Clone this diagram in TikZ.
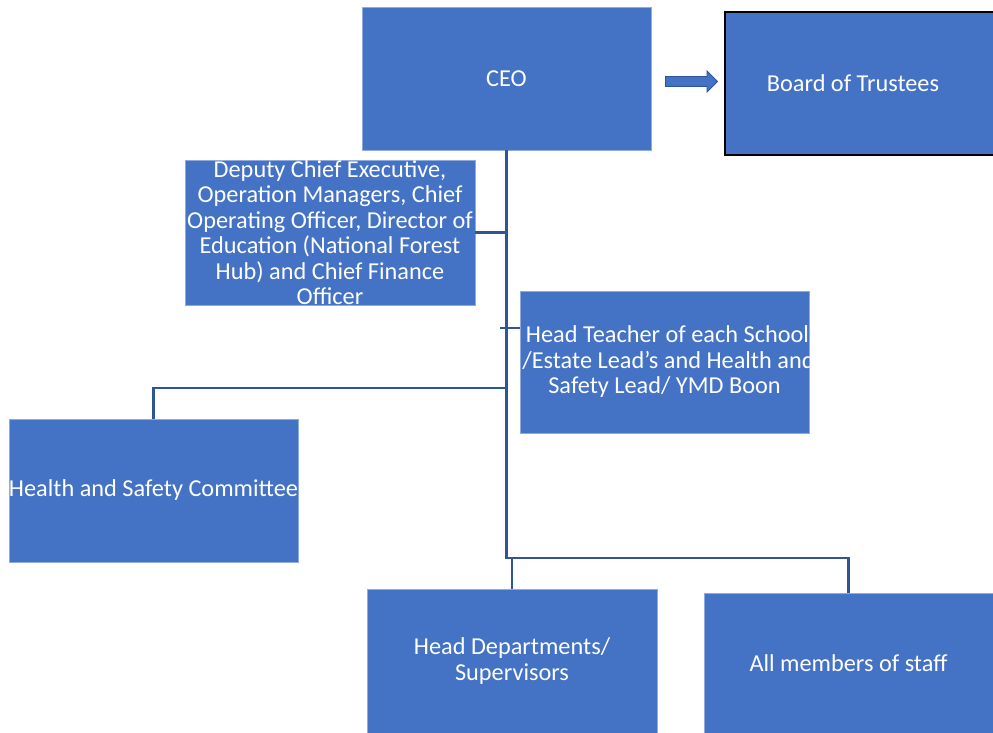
\documentclass[tikz,border=0pt]{standalone}
\usepackage{fontspec}
\setmainfont{Carlito}
\usetikzlibrary{shapes.arrows}
\definecolor{boxblue}{HTML}{4472C4}
\definecolor{lineblue}{HTML}{2F5597}
\begin{document}
\begin{tikzpicture}[x=1pt,y=-1pt,
  box/.style={fill=boxblue,draw=boxblue!60!white,line width=0.6pt,inner sep=0pt,
    text=white,align=center,font=\fontsize{24.3}{25.5}\selectfont},
  link/.style={draw=lineblue,line width=2.4pt}]
\useasboundingbox[fill=white] (0,0) rectangle (993,733);
\node[box,minimum width=289,minimum height=143] (1) at (506.5,78.5) {CEO};
\node[box,draw=black,line width=1.6pt,minimum width=270,minimum height=143] (2) at (860,83.5) {\hspace*{-14pt}Board of Trustees};
\node[box,minimum width=290,minimum height=145] (3) at (330,232.5) {Deputy Chief Executive,\\Operation Managers, Chief\\Operating Officer, Director of\\Education (National Forest\\Hub) and Chief Finance\\Officer};
\node[box,minimum width=289,minimum height=142] (4) at (664.5,362) {\makebox[270pt]{\hspace*{6pt}Head Teacher of each School}\\\makebox[270pt]{\hspace*{8pt}/Estate Lead's and Health and}\\\makebox[270pt]{Safety Lead/ YMD Boon}};
\node[box,minimum width=289,minimum height=143] (5) at (153.5,490.5) {Health and Safety Committee};
\node[box,minimum width=290,minimum height=144] (6) at (512,661) {Head Departments/\\Supervisors};
\node[box,minimum width=289,minimum height=140] (7) at (848.5,663) {All members of staff};
\node[single arrow,fill=boxblue,draw=lineblue,line width=0.8pt,minimum height=52,
  text height=0pt,text depth=0pt,inner xsep=0pt,inner ysep=4.5pt,
  single arrow head extend=5.5pt] (8) at (689,81.5) {};
\path[link] (1.south) -- (506.5,558) -| (6.north);
\path[link] (506.5,558) -| (7.north);
\path[link] (506.5,388) -| (5.north);
\path[link] (3.east) -- (3.east -| 1.south);
\path[link,line width=1.4pt] ([yshift=34pt]4.west) -- ++(-20,0);
\end{tikzpicture}
\end{document}
